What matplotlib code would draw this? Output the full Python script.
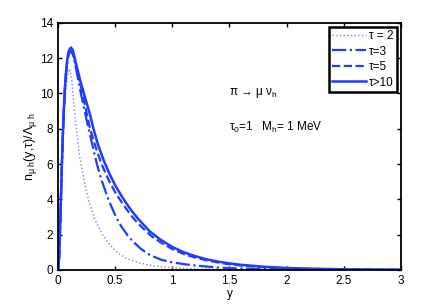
import numpy as np
import matplotlib
matplotlib.use('Agg')
import matplotlib.pyplot as plt

plt.rcParams['font.family'] = ['Liberation Sans', 'DejaVu Sans']
plt.rcParams['mathtext.fontset'] = 'custom'
plt.rcParams['mathtext.rm'] = 'Liberation Sans'
plt.rcParams['mathtext.it'] = 'Liberation Sans'
plt.rcParams['mathtext.default'] = 'regular'

# values
y_tau2 = [0, 0.01, 0.02, 0.03, 0.04, 0.05, 0.06, 0.07, 0.08, 0.09, 0.105, 0.118, 0.13, 0.15,
          0.19, 0.23, 0.27, 0.32, 0.38, 0.45, 0.5, 0.55, 0.6, 0.7, 0.8, 0.9, 1.0,
          1.2, 1.5, 2.0, 2.5, 3.0]
n_tau2 = [0, 0.6, 2.5, 4.6, 6.5, 8.2, 9.5, 10.3, 10.9, 11.2, 11.4, 10.9, 10.0, 8.6,
          6.4, 5.0, 3.9, 2.9, 2.1, 1.45, 1.1, 0.85, 0.66, 0.42, 0.27, 0.18, 0.12,
          0.06, 0.025, 0.008, 0.002, 0]

y_tau3 = [0, 0.01, 0.02, 0.03, 0.04, 0.05, 0.06, 0.07, 0.08, 0.09, 0.1, 0.115, 0.13, 0.15,
          0.17, 0.2, 0.23, 0.26, 0.3, 0.34, 0.38, 0.44, 0.5, 0.55, 0.61, 0.65, 0.72, 0.8,
          0.9, 1.0, 1.1, 1.2, 1.3, 1.4, 1.5, 1.7, 2.0, 2.5, 3.0]
n_tau3 = [0, 0.7, 2.8, 5.1, 7.2, 8.9, 10.2, 11.1, 11.7, 12.1, 12.3, 12.4, 12.2, 11.65,
          11.0, 10.0, 9.1, 8.2, 7.1, 6.0, 5.1, 4.0, 3.1, 2.5, 1.95, 1.65, 1.22, 0.86,
          0.58, 0.43, 0.33, 0.25, 0.19, 0.14, 0.1, 0.06, 0.025, 0.006, 0]

y_tau5 = [0, 0.01, 0.02, 0.03, 0.04, 0.05, 0.06, 0.07, 0.08, 0.09, 0.1, 0.115, 0.13, 0.155,
          0.2, 0.24, 0.28, 0.33, 0.38, 0.45, 0.5, 0.57, 0.65, 0.72, 0.82, 0.9, 1.0, 1.1,
          1.2, 1.3, 1.4, 1.5, 1.6, 1.8, 2.0, 2.5, 3.0]
n_tau5 = [0, 0.7, 2.8, 5.2, 7.3, 9.0, 10.3, 11.2, 11.8, 12.2, 12.4, 12.5, 12.35, 11.65,
          10.4, 9.2, 8.0, 6.95, 6.0, 5.0, 4.4, 3.7, 3.0, 2.5, 1.9, 1.55, 1.18, 0.9,
          0.7, 0.54, 0.42, 0.32, 0.25, 0.15, 0.09, 0.025, 0.005]

y_tau10 = [0, 0.01, 0.02, 0.03, 0.04, 0.05, 0.06, 0.07, 0.08, 0.09, 0.1, 0.114, 0.13, 0.155,
           0.2, 0.242, 0.28, 0.31, 0.35, 0.4, 0.45, 0.5, 0.55, 0.6, 0.65, 0.7, 0.75, 0.8,
           0.9, 1.0, 1.1, 1.2, 1.3, 1.4, 1.5, 1.6, 1.8, 2.0, 2.2, 2.5, 3.0]
n_tau10 = [0, 0.7, 2.8, 5.2, 7.3, 9.0, 10.3, 11.2, 11.9, 12.3, 12.5, 12.6, 12.45, 11.75,
           10.6, 9.64, 8.8, 8.0, 7.1, 6.2, 5.45, 4.8, 4.25, 3.75, 3.3, 2.9, 2.55, 2.2,
           1.7, 1.3, 1.0, 0.78, 0.6, 0.47, 0.37, 0.29, 0.18, 0.11, 0.07, 0.035, 0.01]

labels = ['\u03c4 = 2', '\u03c4=3', '\u03c4=5', '\u03c4>10']
xticks = [0, 0.5, 1, 1.5, 2, 2.5, 3]
yticks = [0, 2, 4, 6, 8, 10, 12, 14]

blue = '#1f3cff'

fig = plt.figure(figsize=(4.43, 3.05), dpi=100)
ax = fig.add_axes([0.131, 0.115, 0.774, 0.81])

ax.plot(y_tau2, n_tau2, ':', color='#6f86ff', lw=1.0, label=labels[0])
ax.plot(y_tau3, n_tau3, '-.', color=blue, lw=1.6, label=labels[1])
ax.plot(y_tau5, n_tau5, '--', color=blue, lw=1.6, label=labels[2])
ax.plot(y_tau10, n_tau10, '-', color=blue, lw=1.8, label=labels[3])

ax.set_xlim(0, 3)
ax.set_ylim(0, 14)
ax.set_xticks(xticks)
ax.set_xticklabels(['0', '0.5', '1', '1.5', '2', '2.5', '3'])
ax.set_yticks(yticks)
ax.tick_params(direction='in', top=True, right=True, length=3, width=1, labelsize=8.5)
for s in ax.spines.values():
    s.set_linewidth(1.3)

ax.set_xlabel('y', fontsize=8.5, labelpad=1)
ax.set_ylabel(r'n$_{\mu\ h}$(y,$\tau$)/$\Lambda_{\mu\ h}$', fontsize=9, labelpad=1)

ax.text(1.5, 10.0, '\u03c0 \u2192 \u03bc \u03bd$_h$', fontsize=8.5, va='center')
ax.text(1.5, 8.1, r'$\tau_0$=1   M$_h$= 1 MeV', fontsize=8.5, va='center')

leg = ax.legend(loc='upper right', fontsize=8.5, handlelength=2.9, handletextpad=0.25,
                labelspacing=0.3, borderpad=0.25, fancybox=False, framealpha=1,
                borderaxespad=0.35)
leg.get_frame().set_edgecolor('black')
leg.get_frame().set_linewidth(1.8)

fig.savefig('out.png', dpi=100)
